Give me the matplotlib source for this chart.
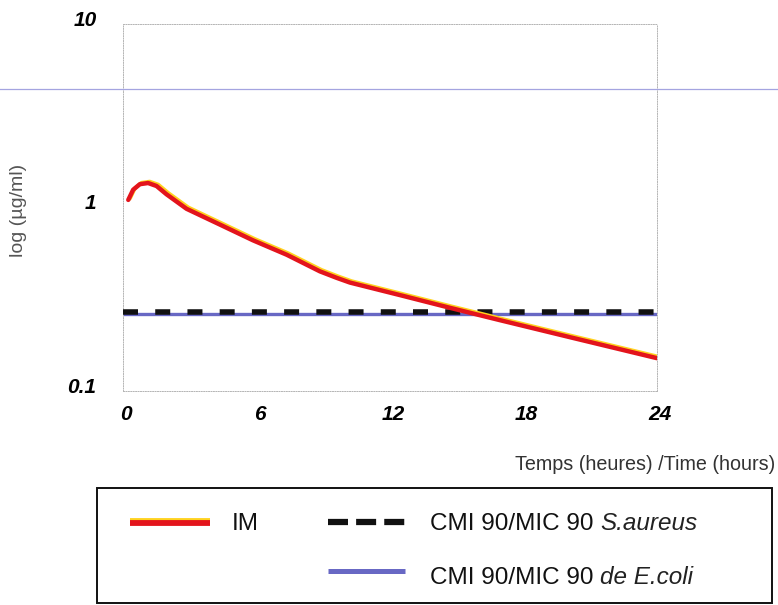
import numpy as np
import matplotlib
matplotlib.use('Agg')
import matplotlib.pyplot as plt
import matplotlib.patheffects as pe
import matplotlib.transforms as mtransforms
from matplotlib.lines import Line2D
from matplotlib.patches import Rectangle

# IM concentration curve (hours, ug/ml)
hours = [0.24, 0.46, 0.76, 1.13, 1.51, 1.96, 2.86, 4.36, 5.84, 7.36, 8.85, 9.6, 10.2,
         12.5, 14.7, 16.9, 20.2, 24]
im_conc = [1.10, 1.25, 1.34, 1.36, 1.31, 1.18, 0.984, 0.807, 0.663, 0.553, 0.449, 0.414, 0.39,
           0.332, 0.284, 0.244, 0.195, 0.151]

# MIC 90 levels
mic_saureus = 0.271
mic_ecoli = 0.262
x_range = [0, 24]

x_ticks = [0, 6, 12, 18, 24]
y_ticks = [0.1, 1, 10]
y_ticklabels = ['0.1', '1', '10']

RED = '#e3141c'
YELLOW = '#ffd21e'
BLUE = '#6868c4'
FONT = 'Liberation Sans'

fig = plt.figure(figsize=(7.78, 6.05), dpi=100)
ax = fig.add_axes([0.158, 0.3537, 0.6864, 0.6066])

ax.plot(x_range, [mic_ecoli, mic_ecoli], color=BLUE, lw=2.4, solid_capstyle='butt', zorder=2)
ax.plot(x_range, [mic_saureus, mic_saureus], color='#111111', lw=4.0,
        dashes=(2.7, 3.1), dash_capstyle='butt', zorder=3)
ax.plot(hours, im_conc, color=RED, lw=3.2, solid_joinstyle='round', solid_capstyle='round',
        zorder=4,
        path_effects=[pe.Stroke(linewidth=2.8, foreground=YELLOW, offset=(1.2, 1.0)),
                      pe.Normal()])

ax.set_yscale('log')
ax.set_xlim(0, 24)
ax.set_ylim(0.1, 10)
ax.set_xticks(x_ticks)
ax.set_yticks(y_ticks)
ax.set_yticklabels(y_ticklabels)
ax.minorticks_off()
ax.tick_params(length=0, labelsize=15)
ax.tick_params(axis='y', pad=19)
ax.tick_params(axis='x', pad=10)
for lab in ax.get_xticklabels() + ax.get_yticklabels():
    lab.set_fontfamily(FONT)
    lab.set_fontweight('bold')
    lab.set_fontstyle('italic')
for lab in ax.get_yticklabels():
    lab.set_transform(lab.get_transform() + mtransforms.ScaledTranslation(0, 0.06, fig.dpi_scale_trans))
for lab in ax.get_xticklabels():
    lab.set_transform(lab.get_transform() + mtransforms.ScaledTranslation(0.03, 0, fig.dpi_scale_trans))

for sp in ax.spines.values():
    sp.set_linestyle((0, (1, 1.5)))
    sp.set_color('#b4b4b4')
    sp.set_linewidth(0.7)

fig.text(19 / 778, 1 - 210 / 605, 'log (µg/ml)', rotation=90, ha='center', va='center',
         fontsize=14, color='#555555', family=FONT)
fig.text(0.996, 1 - 465 / 605, 'Temps (heures) /Time (hours)', ha='right', va='center',
         fontsize=14.2, color='#333333', family=FONT)

# scanner line across the page
fig.add_artist(Line2D([0, 1], [1 - 89 / 605] * 2, color='#a4a4e0', lw=0.9))

# legend box
W, H = 778.0, 605.0
fig.add_artist(Rectangle((97 / W, 1 - 603 / H), (772 - 97) / W, (603 - 488) / H,
                         fill=False, ec='#111111', lw=1.4))
fig.add_artist(Line2D([130 / W, 210 / W], [1 - 523 / H] * 2, color=RED, lw=4.2,
                      solid_capstyle='butt',
                      path_effects=[pe.Stroke(linewidth=4.2, foreground=YELLOW, offset=(0, 1.2)),
                                    pe.Normal()]))
fig.add_artist(Line2D([328 / W, 405 / W], [1 - 522 / H] * 2, color='#111111', lw=4.5,
                      dashes=(3.2, 1.3), dash_capstyle='butt'))
fig.add_artist(Line2D([328 / W, 405 / W], [1 - 571 / H] * 2, color=BLUE, lw=3.6,
                      solid_capstyle='butt'))

LEG_FS = 17.5
fig.text(232 / W, 1 - 530 / H, 'IM', ha='left', va='baseline', fontsize=LEG_FS,
         color='#111111', family=FONT)
renderer = fig.canvas.get_renderer()
for ypix, plain, ital in [(530, 'CMI 90/MIC 90 ', 'S.aureus'), (584, 'CMI 90/MIC 90 ', 'de E.coli')]:
    t1 = fig.text(430 / W, 1 - ypix / H, plain, ha='left', va='baseline', fontsize=LEG_FS,
                  color='#111111', family=FONT)
    bb = t1.get_window_extent(renderer)
    x_end = bb.x1 / fig.bbox.width
    fig.text(x_end, 1 - ypix / H, ital, ha='left', va='baseline', fontsize=LEG_FS,
             color='#222222', family=FONT, style='italic')

fig.savefig('out.png', dpi=100)
